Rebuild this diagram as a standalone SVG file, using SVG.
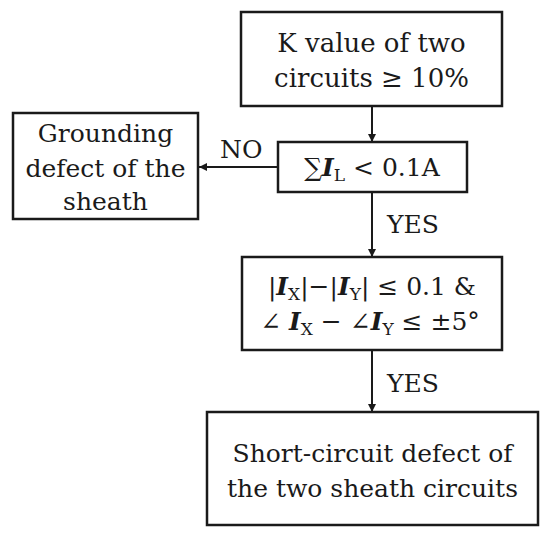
<svg xmlns="http://www.w3.org/2000/svg" width="550" height="540" viewBox="0 0 550 540">
<style>
.box{fill:#fff;stroke:#1a1a1a;stroke-width:2.5}
.t{font-family:"DejaVu Serif",serif;font-size:25px;fill:#1a1a1a;text-anchor:middle}
.big{font-size:26px}
.lbl{font-family:"DejaVu Serif",serif;font-size:25px;fill:#1a1a1a}
.c{stroke:#1a1a1a;stroke-width:2;fill:none}
.bi{font-weight:bold;font-style:italic}
.sub{font-size:17px}
</style>
<defs>
<marker id="ah" viewBox="0 0 10 10" refX="10" refY="5" markerWidth="8" markerHeight="8" markerUnits="userSpaceOnUse" orient="auto">
<path d="M0,0 L10,5 L0,10 z" fill="#1a1a1a"/>
</marker>
</defs>
<rect width="550" height="540" fill="#fff"/>
<g id="connectors">
<line class="c" x1="372" y1="106" x2="372" y2="142" marker-end="url(#ah)"/>
<line class="c" x1="278" y1="167" x2="199" y2="167" marker-end="url(#ah)"/>
<line class="c" x1="372" y1="192" x2="372" y2="257" marker-end="url(#ah)"/>
<line class="c" x1="372" y1="350" x2="372" y2="412" marker-end="url(#ah)"/>
<text class="lbl" x="220" y="158">NO</text>
<text class="lbl" x="387" y="233">YES</text>
<text class="lbl" x="387" y="392">YES</text>
</g>
<g id="node-k">
<rect class="box" x="241" y="12" width="261" height="94"/>
<text class="t big" x="371.5" y="52">K value of two</text>
<text class="t big" x="371.5" y="87">circuits ≥ 10%</text>
</g>
<g id="node-sum">
<rect class="box" x="278" y="142" width="189" height="50"/>
<text class="t" x="372" y="176">∑<tspan class="bi">I</tspan><tspan class="sub" dy="5">L</tspan><tspan dy="-5"> &lt; 0.1A</tspan></text>
</g>
<g id="node-ground">
<rect class="box" x="13" y="113" width="185" height="106"/>
<text class="t" x="105.5" y="142">Grounding</text>
<text class="t" x="105.5" y="177">defect of the</text>
<text class="t" x="105.5" y="210">sheath</text>
</g>
<g id="node-cmp">
<rect class="box" x="242" y="257" width="260" height="93"/>
<text class="t" x="372" y="295">|<tspan class="bi">I</tspan><tspan class="sub" dy="5">X</tspan><tspan dy="-5">|−|</tspan><tspan class="bi">I</tspan><tspan class="sub" dy="5">Y</tspan><tspan dy="-5">| ≤ 0.1 &amp;</tspan></text>
<text class="t" x="370" y="330">∠ <tspan class="bi">I</tspan><tspan class="sub" dy="5">X</tspan><tspan dy="-5"> − ∠</tspan><tspan class="bi">I</tspan><tspan class="sub" dy="5">Y</tspan><tspan dy="-5"> ≤ ±5°</tspan></text>
</g>
<g id="node-short">
<rect class="box" x="207" y="412" width="331" height="113"/>
<text class="t" x="372.5" y="462">Short-circuit defect of</text>
<text class="t" x="372.5" y="497">the two sheath circuits</text>
</g>
</svg>
